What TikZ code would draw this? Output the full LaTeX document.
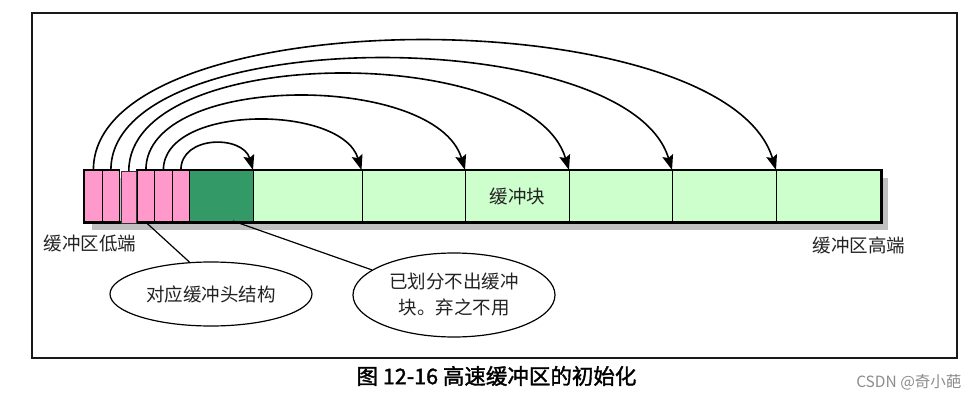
\documentclass[tikz,border=0pt]{standalone}
\usepackage{fontspec}
\newfontfamily\cjk{Noto Sans CJK SC}
\newfontfamily\cjkb[FakeBold=1.6]{Noto Sans CJK SC}
\usetikzlibrary{arrows.meta,shapes.geometric}
\definecolor{pinkc}{HTML}{FF99CC}
\definecolor{dgreen}{HTML}{339966}
\definecolor{lgreen}{HTML}{CCFFCC}
\definecolor{shadowc}{HTML}{C0C0C0}
\definecolor{txt}{HTML}{222222}
\begin{document}
\begin{tikzpicture}[x=1pt,y=-1pt,
  cell/.style={draw, line width=1.3pt, inner sep=0pt, minimum height=51pt, anchor=north west},
  pcell/.style={cell, fill=pinkc, minimum width=17.5pt},
  gcell/.style={cell, fill=lgreen},
  arcline/.style={line width=1.6pt, -{Stealth[length=15pt,width=11pt,inset=2.5pt]}},
  lbl/.style={font=\cjk\fontsize{18.5}{22}\selectfont, text=txt},
  bubble/.style={draw, line width=1.2pt, ellipse, inner sep=0pt, font=\cjk\fontsize{18.5}{26}\selectfont, text=txt, align=center},
  conn/.style={line width=1.2pt}]
\useasboundingbox (0,0) rectangle (980,401);
% frame
\draw[line width=2pt, draw=black!90] (32,13.5) rectangle (956.5,358.3);
% shadow
\fill[shadowc] (92,178) rectangle (888,230);
% cells
\node[pcell] (p1) at (84,170) {};
\node[pcell] (p2) at (101.5,170) {};
\node[pcell] (p4) at (136.5,170) {};
\node[pcell] (p5) at (154,170) {};
\node[pcell] (p6) at (171.5,170) {};
\node[cell, fill=dgreen, minimum width=64pt] (d) at (189,170) {};
\node[gcell, minimum width=108.5pt] (g1) at (253,170) {};
\node[gcell, minimum width=103.5pt] (g2) at (361.5,170) {};
\node[gcell, minimum width=104pt] (g3) at (465,170) {};
\node[gcell, minimum width=103pt] (g4) at (569,170) {};
\node[gcell, minimum width=104pt] (g5) at (672,170) {};
\node[gcell, minimum width=104pt] (g6) at (776,170) {};
\draw[line width=2.6pt] (p1.north west) rectangle (g6.south east);
\fill[white] (120.4,168) rectangle (135.9,171);
\node[cell, fill=pinkc, line width=0.8pt, draw=black!80, minimum width=15.2pt, minimum height=51.5pt] (p3) at (120.8,171) {};
\node[lbl] (blk) at (g3.center) {缓冲块};
% arcs
\draw[arcline] (p6.north) .. controls +(0,-35) and +(-10,-35) .. (g1.north west);
\draw[arcline] (p5.north) .. controls +(0,-66) and +(-20,-66) .. (g2.north west);
\draw[arcline] (p4.north) .. controls +(0,-98) and +(-29,-98) .. (g3.north west);
\draw[arcline] (p3.north) .. controls +(0,-128) and +(-38,-128) .. (g4.north west);
\draw[arcline] (p2.north) .. controls +(0,-148) and +(-44,-148) .. (g5.north west);
\draw[arcline] (p1.north) .. controls +(0,-172) and +(-52,-172) .. (g6.north west);
% labels
\node[lbl] (low) at (90,244) {缓冲区低端};
\node[lbl] (high) at (859,245) {缓冲区高端};
% bubbles
\node[bubble, minimum width=202pt, minimum height=64pt] (e1) at (211,294) {对应缓冲头结构};
\node[bubble, minimum width=202pt, minimum height=84pt] (e2) at (454,295) {已划分不出缓冲\\块。弃之不用};
\coordinate (c2) at (233,221);
\draw[conn] (p4.south) -- (e1.124);
\draw[conn] (c2) -- (e2.163);
% caption
\node[font=\cjkb\fontsize{21.5}{24}\selectfont, text=black] (cap) at (496.5,376) {图 12-16 高速缓冲区的初始化};
\node[font=\cjk\fontsize{15.5}{18}\selectfont, text=black!45, anchor=east] (wm) at (965,382) {CSDN @奇小葩};
\end{tikzpicture}
\end{document}
